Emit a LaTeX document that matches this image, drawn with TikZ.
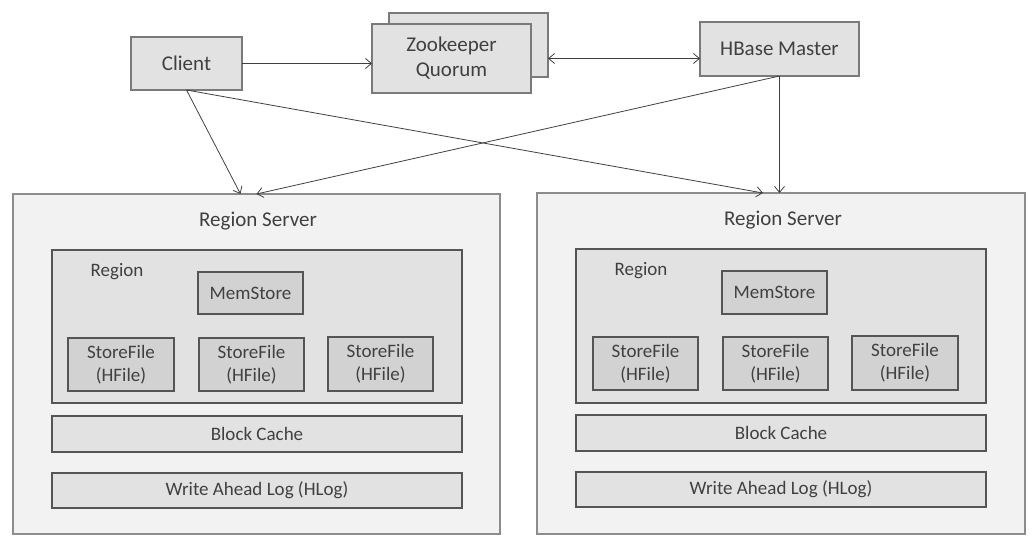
\documentclass[tikz,border=0pt]{standalone}
\usepackage{fontspec}
\setmainfont{Carlito}
\usetikzlibrary{arrows.meta,calc}
\definecolor{txt}{HTML}{404040}
\definecolor{rsfill}{HTML}{F2F2F2}
\definecolor{rsdraw}{HTML}{8C8C8C}
\definecolor{boxfill}{HTML}{E2E2E2}
\definecolor{boxdraw}{HTML}{7A7A7A}
\definecolor{darkdraw}{HTML}{555555}
\definecolor{innerfill}{HTML}{D2D2D2}
\definecolor{arr}{HTML}{404040}
\tikzset{
  every node/.style={text=txt, inner sep=0pt, outer sep=0pt},
  topbox/.style={draw=boxdraw, fill=boxfill, line width=1.6pt, font=\fontsize{21}{25}\selectfont, align=center},
  rsbox/.style={draw=rsdraw, fill=rsfill, line width=1.3pt},
  regbox/.style={draw=darkdraw, fill=boxfill, line width=1.3pt},
  memb/.style={draw=darkdraw, fill=innerfill, line width=1.4pt, font=\fontsize{19}{23}\selectfont, align=center},
  barbox/.style={draw=darkdraw, fill=boxfill, line width=1.3pt, font=\fontsize{19}{23}\selectfont, align=center},
  conn/.style={draw=arr, line width=0.8pt, -{Straight Barb[length=6pt,width=10pt]}},
  conn2/.style={draw=arr, line width=0.8pt, {Straight Barb[length=6pt,width=10pt]}-{Straight Barb[length=6pt,width=10pt]}},
  rslabel/.style={font=\fontsize{21}{25}\selectfont},
  reglabel/.style={font=\fontsize{19}{23}\selectfont},
}
\begin{document}
\begin{tikzpicture}[x=1pt,y=-1pt]
\useasboundingbox (0,0) rectangle (1035,540);
% top row
\node[topbox, minimum width=111pt, minimum height=53pt] (client) at (186.5,63.5) {Client};
\node[topbox, minimum width=159pt, minimum height=64pt] (zkback) at (468.5,45) {};
\node[topbox, minimum width=159pt, minimum height=69pt] (zk) at (451.5,58.5) {Zookeeper\\Quorum};
\node[topbox, minimum width=159pt, minimum height=54pt] (master) at (779.5,49) {HBase Master};
% region server 1
\node[rsbox, minimum width=487pt, minimum height=340pt] (rs1) at (256.5,364) {};
\node[rslabel] (rs1l) at (258,221) {Region Server};
\node[regbox, minimum width=410pt, minimum height=153pt] (reg1) at (257,326.5) {};
\node[reglabel] (reg1l) at (117,272) {Region};
\node[memb, minimum width=105pt, minimum height=42pt] (mem1) at (250.5,293) {MemStore};
\node[memb, minimum width=106pt, minimum height=53pt] (sf1a) at (121,364.5) {StoreFile\\(HFile)};
\node[memb, minimum width=105pt, minimum height=53pt] (sf1b) at (251.5,364.5) {StoreFile\\(HFile)};
\node[memb, minimum width=105pt, minimum height=54pt] (sf1c) at (380.5,364) {StoreFile\\(HFile)};
\node[barbox, minimum width=410pt, minimum height=36pt] (bc1) at (257,434) {Block Cache};
\node[barbox, minimum width=410pt, minimum height=35pt] (wal1) at (257,490.5) {Write Ahead Log (HLog)};
% region server 2
\node[rsbox, minimum width=488pt, minimum height=341pt] (rs2) at (781,363.5) {};
\node[rslabel] (rs2l) at (783,220) {Region Server};
\node[regbox, minimum width=410pt, minimum height=154pt] (reg2) at (781,326) {};
\node[reglabel] (reg2l) at (641,271) {Region};
\node[memb, minimum width=105pt, minimum height=43pt] (mem2) at (774.5,292.5) {MemStore};
\node[memb, minimum width=105pt, minimum height=53pt] (sf2a) at (645.5,363.5) {StoreFile\\(HFile)};
\node[memb, minimum width=105pt, minimum height=53pt] (sf2b) at (775.5,363.5) {StoreFile\\(HFile)};
\node[memb, minimum width=106pt, minimum height=54pt] (sf2c) at (905,363) {StoreFile\\(HFile)};
\node[barbox, minimum width=410pt, minimum height=36pt] (bc2) at (781,433) {Block Cache};
\node[barbox, minimum width=410pt, minimum height=35pt] (wal2) at (781,489.5) {Write Ahead Log (HLog)};
% connectors
\draw[conn] (client.east) -- (client.east -| zk.west);
\draw[conn2] (zk.east -| zkback.east) -- (zk.east -| master.west);
\draw[conn] (client.south) -- ($(rs1.north)+(-16,0)$);
\draw[conn] (client.south) -- ($(rs2.north)+(-18,0)$);
\draw[conn] (master.south) -- (rs1.north);
\draw[conn] (master.south) -- (master.south |- rs2.north);
\end{tikzpicture}
\end{document}
